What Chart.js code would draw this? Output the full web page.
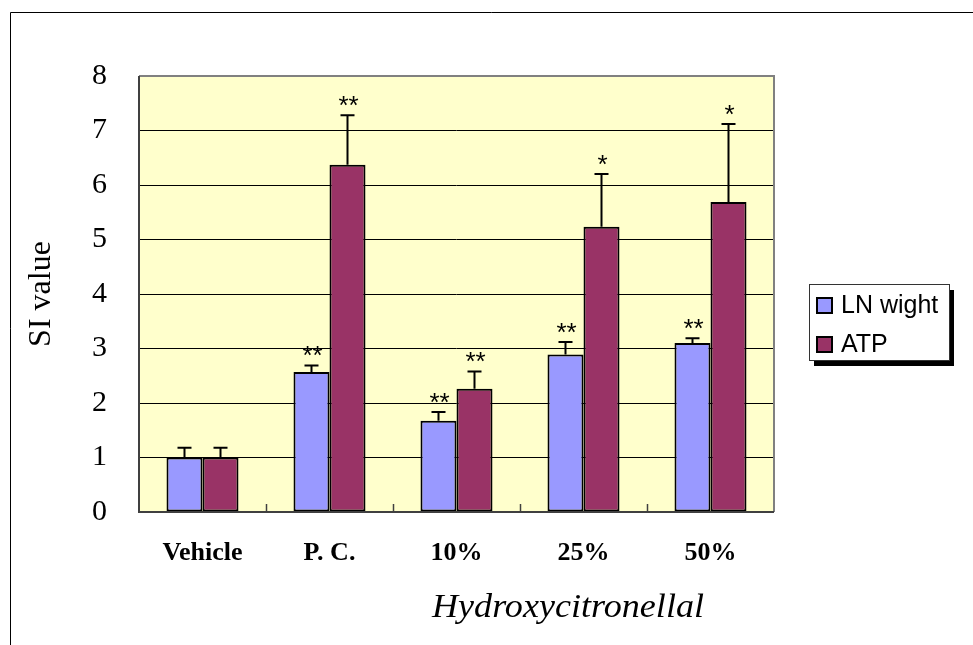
<!DOCTYPE html>
<html lang="en">
<head>
  <meta charset="utf-8" />
  <title>SI value – Hydroxycitronellal</title>
  <style>
    html, body { margin: 0; padding: 0; background: #fff; }
    #wrap { width: 973px; height: 645px; position: relative; }
  </style>
</head>
<body>
  <div id="wrap"><canvas id="chart" width="973" height="645"></canvas></div>
  <script src="https://cdn.jsdelivr.net/npm/chart.js@4.4.1/dist/chart.umd.min.js"></script>
  <script>
  const categories = ["Vehicle", "P. C.", "10%", "25%", "50%"];
  const lnWight = [1.0, 2.57, 1.675, 2.89, 3.10];
  const lnWightErr = [0.18, 0.12, 0.16, 0.23, 0.09];
  const atp = [1.0, 6.37, 2.26, 5.235, 5.69];
  const atpErr = [0.18, 0.91, 0.32, 0.965, 1.43];
  const lnWightSig = ["", "**", "**", "**", "**"];
  const atpSig = ["", "**", "**", "*", "*"];
  const yTicks = [0, 1, 2, 3, 4, 5, 6, 7, 8];

  const SERIF = "'Liberation Serif', 'Times New Roman', serif";
  const SANS = "'Liberation Sans', Arial, sans-serif";

  // frame, plot background, error bars, stars, title, legend
  const decor = {
    id: "decor",
    beforeDraw(chart) {
      const c = chart.ctx, a = chart.chartArea;
      c.save();
      c.fillStyle = "#FFFFCC";
      c.fillRect(a.left, a.top, a.right - a.left, a.bottom - a.top);
      c.strokeStyle = "#000";
      c.lineWidth = 1;
      c.beginPath();
      c.moveTo(10.5, chart.height);
      c.lineTo(10.5, 12.5);
      c.lineTo(chart.width, 12.5);
      c.stroke();
      c.restore();
    },
    afterDatasetsDraw(chart) {
      const c = chart.ctx, a = chart.chartArea;
      const y = chart.scales.y, x = chart.scales.x;
      const errs = [lnWightErr, atpErr];
      const sigs = [lnWightSig, atpSig];
      c.save();
      // plot border
      c.strokeStyle = "#808080";
      c.lineWidth = 2;
      c.beginPath();
      c.moveTo(a.left, a.top);
      c.lineTo(a.right, a.top);
      c.lineTo(a.right, a.bottom);
      c.stroke();
      c.strokeStyle = "#404040";
      c.beginPath();
      c.moveTo(a.left, a.top);
      c.lineTo(a.left, a.bottom);
      c.lineTo(a.right, a.bottom);
      c.stroke();
      // category boundary ticks (inward)
      c.lineWidth = 1.5;
      const step = (a.right - a.left) / categories.length;
      for (let i = 1; i < categories.length; i++) {
        const bx = Math.round(x.getPixelForValue(i) - step / 2) + 0.5;
        c.beginPath();
        c.moveTo(bx, a.bottom);
        c.lineTo(bx, a.bottom - 8);
        c.stroke();
      }
      // error bars and significance marks
      chart.data.datasets.forEach(function (ds, di) {
        const meta = chart.getDatasetMeta(di);
        meta.data.forEach(function (bar, i) {
          const top = y.getPixelForValue(ds.data[i] + errs[di][i]);
          c.strokeStyle = "#000";
          c.lineWidth = 2;
          c.beginPath();
          c.moveTo(bar.x, bar.y);
          c.lineTo(bar.x, top);
          c.moveTo(bar.x - 7, top);
          c.lineTo(bar.x + 7, top);
          c.stroke();
          if (sigs[di][i]) {
            c.fillStyle = "#000";
            c.font = "26px " + SANS;
            c.textAlign = "center";
            c.textBaseline = "alphabetic";
            c.fillText(sigs[di][i], bar.x + 1, top - 1);
          }
        });
      });
      c.restore();
    },
    afterDraw(chart) {
      const c = chart.ctx, a = chart.chartArea;
      c.save();
      // x axis title, stretched a little to the wider original face
      c.fillStyle = "#000";
      c.font = "italic 33px " + SERIF;
      c.textAlign = "center";
      c.textBaseline = "middle";
      const tw = c.measureText("Hydroxycitronellal").width;
      c.translate(a.left + 429, 608);
      c.scale(272 / tw, 1);
      c.fillText("Hydroxycitronellal", 0, 0);
      c.restore();
      c.save();
      // legend box with shadow
      const lx = a.right + 35, ly = 284, lw = 140, lh = 76;
      c.fillStyle = "#000";
      c.fillRect(lx + 5, ly + 6, lw, lh);
      c.fillStyle = "#fff";
      c.fillRect(lx, ly, lw, lh);
      c.strokeStyle = "#333";
      c.lineWidth = 1;
      c.strokeRect(lx + 0.5, ly + 0.5, lw, lh);
      c.font = "25px " + SANS;
      c.textAlign = "left";
      c.textBaseline = "middle";
      chart.data.datasets.forEach(function (ds, di) {
        const ry = ly + 21 + di * 39;
        c.fillStyle = ds.backgroundColor;
        c.fillRect(lx + 8, ry - 7, 15, 15);
        c.strokeStyle = "#000";
        c.lineWidth = 2;
        c.strokeRect(lx + 8, ry - 7, 15, 15);
        c.fillStyle = "#000";
        c.fillText(ds.label, lx + 32, ry + 1);
      });
      c.restore();
    }
  };

  new Chart(document.getElementById("chart"), {
    type: "bar",
    data: {
      labels: categories,
      datasets: [
        { label: "LN wight", data: lnWight, backgroundColor: "#9999FF",
          borderColor: "#000", borderWidth: 2, borderSkipped: false },
        { label: "ATP", data: atp, backgroundColor: "#993366",
          borderColor: "#000", borderWidth: 2, borderSkipped: false }
      ]
    },
    options: {
      responsive: false,
      animation: false,
      layout: { padding: { top: 76, right: 199, left: 0, bottom: 0 } },
      datasets: { bar: { categoryPercentage: 0.567, barPercentage: 1.0 } },
      plugins: { legend: { display: false }, tooltip: { enabled: false } },
      scales: {
        x: {
          grid: { display: false, drawTicks: false },
          border: { display: false },
          ticks: { color: "#000", padding: 26, maxRotation: 0,
                   font: { family: SERIF, size: 26, weight: "bold" } },
          afterFit: function (s) { s.height = 133; }
        },
        y: {
          min: 0, max: 8,
          afterBuildTicks: function (s) { s.ticks = yTicks.map(function (v) { return { value: v }; }); },
          grid: { color: function (ctx) { return ctx.tick && (ctx.tick.value === 0 || ctx.tick.value === 8) ? "rgba(0,0,0,0)" : "#000"; },
                  lineWidth: 1, drawTicks: false },
          border: { display: false },
          ticks: { color: "#000", padding: 32, font: { family: SERIF, size: 30 } },
          title: { display: true, text: "SI value", color: "#000",
                   font: { family: SERIF, size: 32 }, padding: { top: 22, bottom: 0 } },
          afterFit: function (s) { s.width = 139; }
        }
      }
    },
    plugins: [decor]
  });
  </script>
</body>
</html>
